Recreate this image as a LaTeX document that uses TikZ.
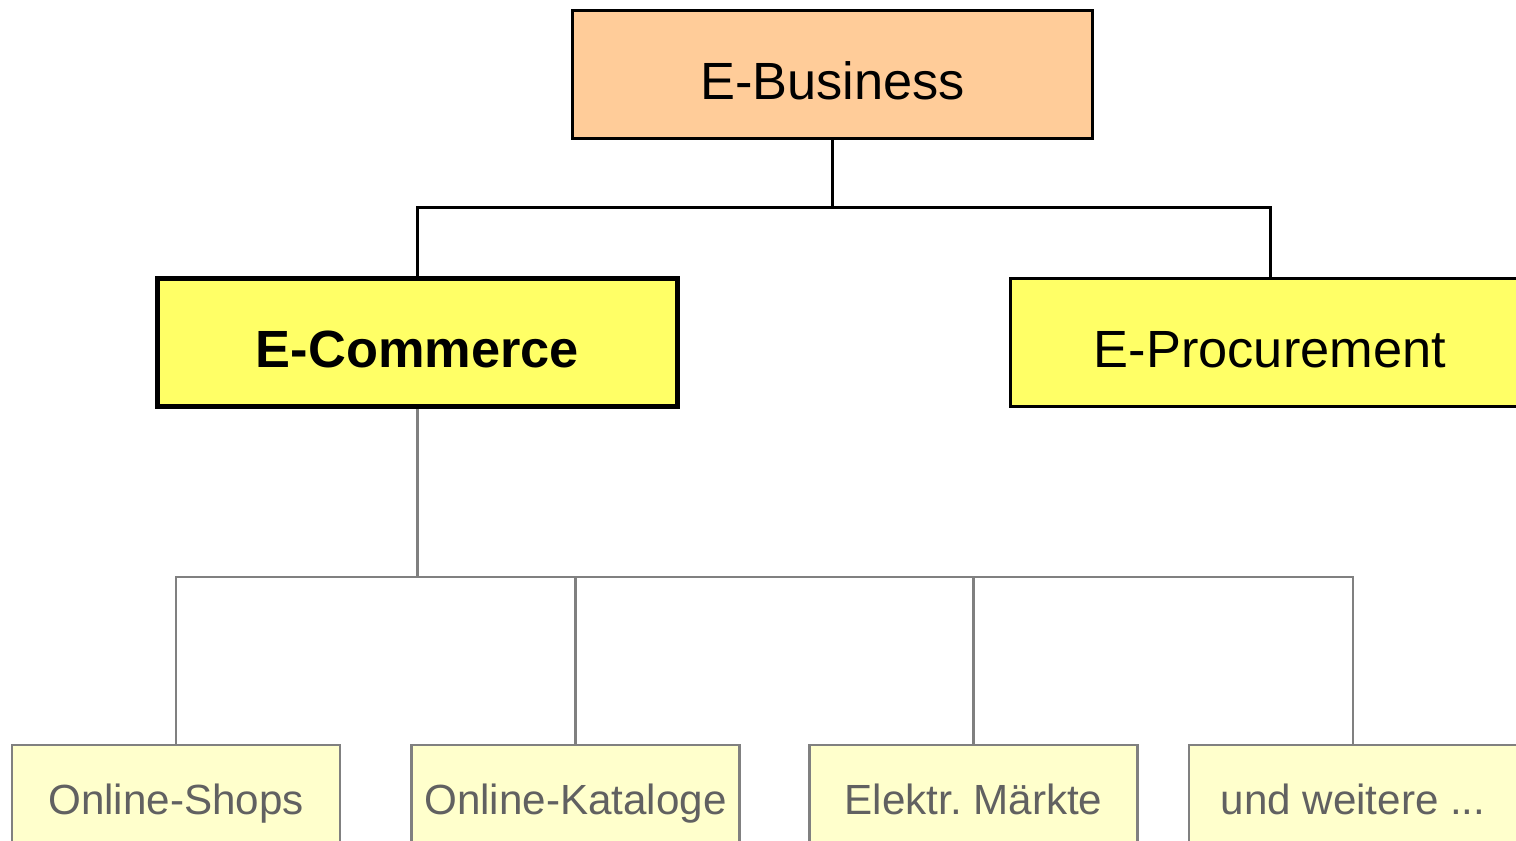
\documentclass[tikz,border=0pt]{standalone}
\usepackage{fontspec}
\setmainfont{Liberation Sans}
\definecolor{bizorange}{HTML}{FFCC99}
\definecolor{areayellow}{HTML}{FFFF66}
\definecolor{formyellow}{HTML}{FFFFCC}
\definecolor{linegray}{HTML}{808080}
\definecolor{textgray}{HTML}{616161}
\begin{document}
\begin{tikzpicture}[
    topbox/.style={draw, line width=0.85pt, minimum width=5.2cm, minimum height=1.28cm, inner sep=0pt, text height=0.52cm, text depth=0.02cm, font=\fontsize{14.9}{18}\selectfont},
    formbox/.style={draw=linegray, line width=0.6pt, fill=formyellow, text=textgray, minimum width=3.28cm, minimum height=1.1cm, inner sep=0pt, text height=0.32cm, text depth=0.04cm, font=\fontsize{12}{14}\selectfont}
  ]
    \useasboundingbox (0,0) rectangle (15.16,8.40);
    \clip (0,0) rectangle (15.16,8.40);
    \node[topbox, fill=bizorange] (EB) at (8.325, 7.655) {E-Business};
    \node[topbox, fill=areayellow, line width=1.7pt, font=\fontsize{14.9}{18}\selectfont\bfseries] (EC) at (4.175, 4.975) {E-Commerce};
    \node[topbox, fill=areayellow] (EP) at (12.70, 4.975) {E-Procurement};

    \node[formbox] (OS) at (1.76, 0.40) {Online-Shops};
    \node[formbox] (OK) at (5.755, 0.40) {Online-Kataloge};
    \node[formbox] (EM) at (9.735, 0.40) {Elektr.\ M\"arkte};
    \node[formbox] (UW) at (13.53, 0.40) {und weitere ...};

    \coordinate (J1) at ([yshift=-0.68cm]EB.south);
    \draw[line width=0.85pt] (EB.south) -- (J1) -| (EC.north);
    \draw[line width=0.85pt] (J1) -| (EP.north);

    \coordinate (J2) at (EC.south |- 0,2.63);
    \draw[linegray, line width=0.6pt] (EC.south) -- (J2);
    \foreach \n in {OS, OK, EM, UW}
      \draw[linegray, line width=0.6pt] (J2) -| (\n.north);
\end{tikzpicture}
\end{document}
